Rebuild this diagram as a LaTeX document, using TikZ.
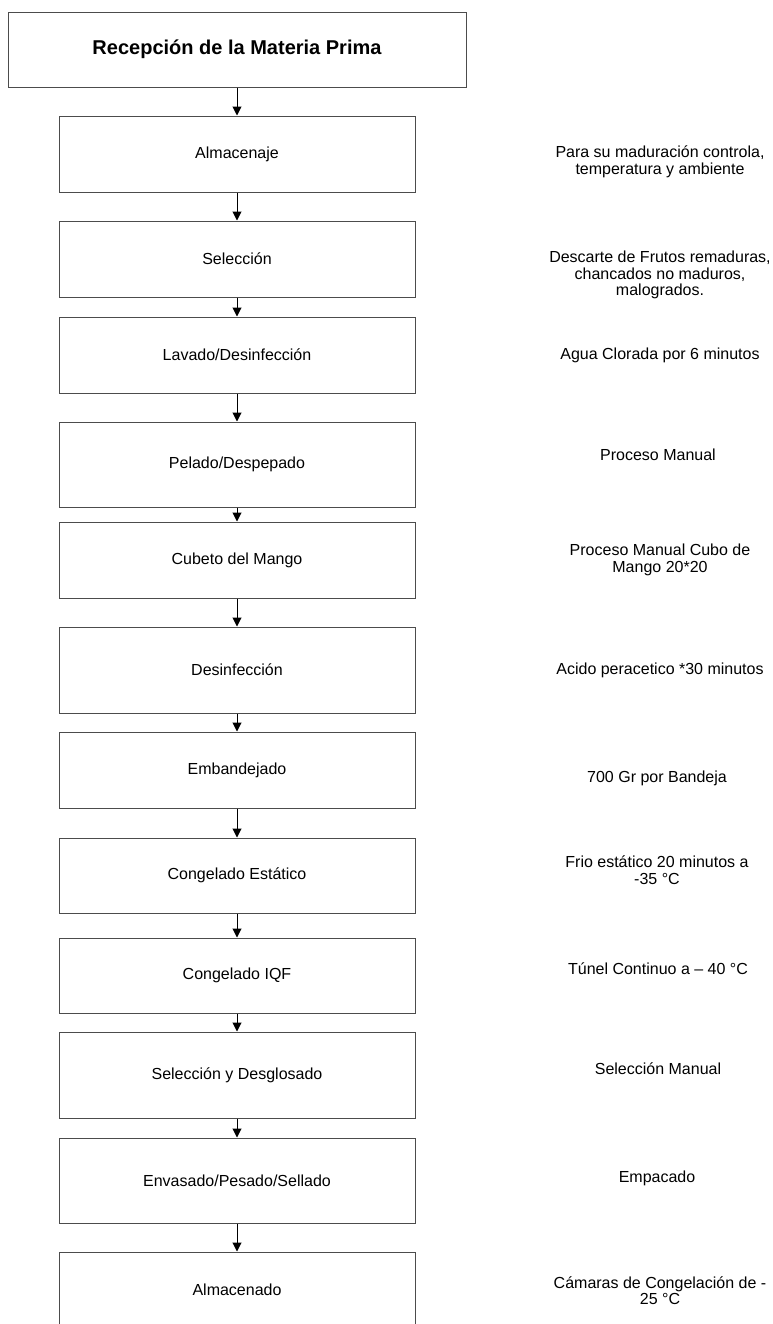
\documentclass[tikz,border=0pt]{standalone}
\usepackage{fontspec}
\setmainfont{Liberation Sans}
\usetikzlibrary{arrows.meta}
\begin{document}
\begin{tikzpicture}[x=0.75pt,y=-0.75pt,
  bodytext/.style={font=\fontsize{12pt}{12.4pt}\selectfont},
  titlebox/.style={draw=black!70, line width=0.75pt, minimum width=343.5pt,
    minimum height=56.25pt, font=\fontsize{15pt}{18pt}\selectfont\bfseries},
  stepbox/.style={draw=black!70, line width=0.75pt, minimum width=267pt,
    minimum height=57pt, bodytext},
  note/.style={align=center, bodytext},
  flow/.style={line width=0.75pt, -{Triangle[length=6.75pt,width=6.75pt]}}]
\useasboundingbox (0,0) rectangle (772,1324);

% process steps
\node[titlebox] (b0) at (237,49.5) {Recepción de la Materia Prima};
\node[stepbox] (b1) at (237,154) {Almacenaje};
\node[stepbox] (b2) at (237,259) {Selección};
\node[stepbox] (b3) at (237,355) {Lavado/Desinfección};
\node[stepbox, minimum height=63.75pt] (b4) at (237,464.5) {Pelado/Despepado};
\node[stepbox] (b5) at (237,560) {Cubeto del Mango};
\node[stepbox, minimum height=64.5pt] (b6) at (237,670) {Desinfección};
\node[stepbox] (b7) at (237,770) {Embandejado};
\node[stepbox, minimum height=56.25pt] (b8) at (237,875.5) {Congelado Estático};
\node[stepbox, minimum height=56.25pt] (b9) at (237,975.5) {Congelado IQF};
\node[stepbox, minimum height=64.5pt] (b10) at (237,1075) {Selección y Desglosado};
\node[stepbox, minimum height=63.75pt] (b11) at (237,1180.5) {Envasado/Pesado/Sellado};
\node[stepbox] (b12) at (237,1290) {Almacenado};

% connectors
\foreach \a/\b in {b0/b1,b1/b2,b2/b3,b3/b4,b4/b5,b5/b6,b6/b7,b7/b8,b8/b9,b9/b10,b10/b11,b11/b12}
  \draw[flow] (\a) -- (\b);

% notes beside each step
\node[note] (n1) at (660,162) {Para su maduración controla,\\temperatura y ambiente};
\node[note] (n2) at (660,275) {Descarte de Frutos remaduras,\\chancados no maduros,\\malogrados.};
\node[note] (n3) at (660,355) {Agua Clorada por 6 minutos};
\node[note] (n4) at (658,455) {Proceso Manual};
\node[note] (n5) at (660,560) {Proceso Manual Cubo de\\Mango 20*20};
\node[note] (n6) at (660,670) {Acido peracetico *30 minutos};
\node[note] (n7) at (657,778) {700 Gr por Bandeja};
\node[note] (n8) at (657,870) {Frio estático 20 minutos a\\-35 °C};
\node[note] (n9) at (658,969) {Túnel Continuo a – 40 °C};
\node[note] (n10) at (658,1069) {Selección Manual};
\node[note] (n11) at (657,1178) {Empacado};
\node[note] (n12) at (660,1290.5) {Cámaras de Congelación de -\\25 °C};
\end{tikzpicture}
\end{document}
